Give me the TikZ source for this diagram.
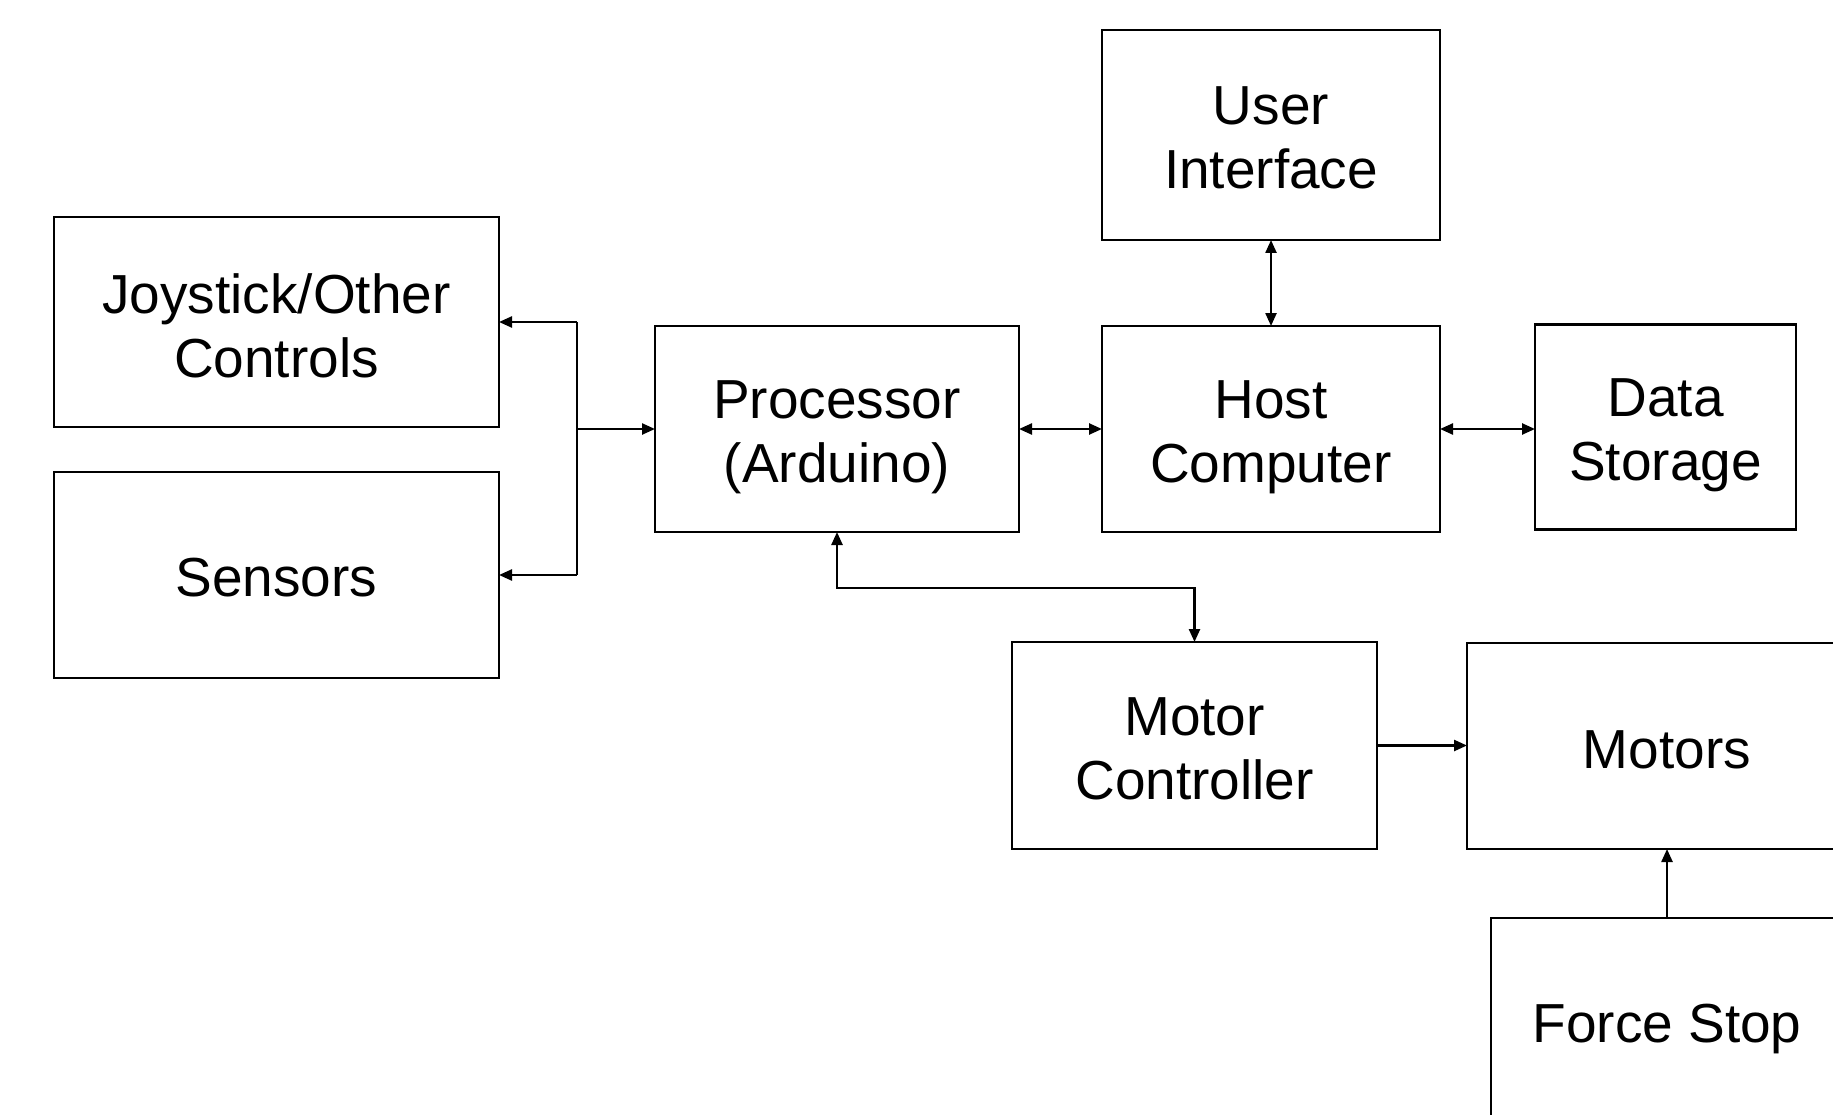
\documentclass[tikz,border=0pt]{standalone}
\usepackage{fontspec}
\setmainfont{Liberation Sans}
\usetikzlibrary{arrows.meta}
\begin{document}
\begin{tikzpicture}[x=1pt,y=-1pt,
  box/.style={draw, line width=2.4pt, inner sep=0pt, outer sep=0pt},
  txt/.style={inner sep=0pt, align=center, font=\fontsize{55}{64}\selectfont},
  link/.style={line width=2.4pt, -{Triangle[length=13pt,width=11pt]}},
  link2/.style={line width=2.4pt, {Triangle[length=13pt,width=11pt]}-{Triangle[length=13pt,width=11pt]}}]
\useasboundingbox (0,0) rectangle (1833,1115);
\clip (0,0) rectangle (1833,1115);
\fill[white] (0,0) rectangle (1833,1115);

% blocks
\node[box, minimum width=338pt, minimum height=210pt] (ui) at (1271,135) {};
\node[box, minimum width=445pt, minimum height=210pt] (joy) at (276.5,322) {};
\node[box, minimum width=445pt, minimum height=206pt] (sens) at (276.5,575) {};
\node[box, minimum width=364pt, minimum height=206pt] (proc) at (837,429) {};
\node[box, minimum width=338pt, minimum height=206pt] (host) at (1271,429) {};
\node[box, minimum width=261pt, minimum height=205pt] (data) at (1665.5,427) {};
\node[box, minimum width=365pt, minimum height=207pt] (mc) at (1194.5,745.5) {};
\node[box, minimum width=400pt, minimum height=206pt] (mot) at (1667,746) {};
\node[box, minimum width=352pt, minimum height=210pt] (fs) at (1667,1023) {};

% block labels
\node[txt] (uit) at ([yshift=-3pt]ui.center) {User\\Interface};
\node[txt] (joyt) at ([yshift=-4pt]joy.center) {Joystick/Other\\Controls};
\node[txt] (senst) at ([yshift=-3pt]sens.center) {Sensors};
\node[txt] (proct) at ([yshift=-8pt]proc.center) {Processor\\(Arduino)};
\node[txt] (hostt) at ([yshift=-8pt]host.center) {Host\\Computer};
\node[txt] (datat) at ([yshift=-8pt]data.center) {Data\\Storage};
\node[txt] (mct) at ([yshift=-3pt]mc.center) {Motor\\Controller};
\node[txt] (mott) at ([yshift=-4pt]mot.center) {Motors};
\node[txt] (fst) at ([yshift=-6pt]fs.center) {Force Stop};

% input bus on the left
\coordinate (bus) at (577,429);
\draw[line width=2.4pt] (bus |- joy.east) -- (bus |- sens.east);
\draw[link] (bus) -- (proc.west);
\draw[link] (bus |- joy.east) -- (joy.east);
\draw[link] (bus |- sens.east) -- (sens.east);

% host links
\draw[link2] (proc.east) -- (host.west);
\draw[link2] (ui.south) -- (host.north);
\draw[link2] (host.east) -- (host.east -| data.west);

% motor chain
\coordinate (turn) at (837,588);
\draw[link2] (proc.south) -- (turn) -- (turn -| mc.north) -- (mc.north);
\draw[link] (mc.east) -- (mc.east -| mot.west);
\draw[link] (fs.north) -- (mot.south);
\end{tikzpicture}
\end{document}
